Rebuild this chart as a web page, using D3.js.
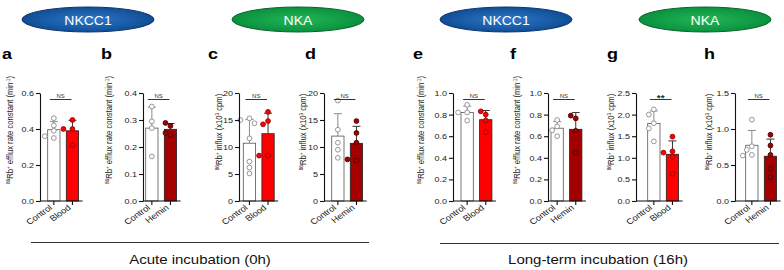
<!DOCTYPE html>
<html>
<head>
<meta charset="utf-8">
<script src="https://cdn.jsdelivr.net/npm/d3@7"></script>
<style>
  html, body { margin: 0; padding: 0; background: #fff; }
  svg { display: block; font-family: "Liberation Sans", Arial, sans-serif; }
</style>
</head>
<body>
<div id="chart"></div>
<script>
// values
const panelLetters = ["a", "b", "c", "d", "e", "f", "g", "h"];
const treatments = ["Blood", "Hemin", "Blood", "Hemin", "Blood", "Hemin", "Blood", "Hemin"];
const controlPoints = [
    [0.46, 0.42, 0.39, 0.35, 0.36],
    [0.35, 0.295, 0.27, 0.165],
    [15.3, 15.0, 14.4, 11.6, 7.3, 6.2, 5.1],
    [18.6, 13.2, 10.8, 9.5, 8.0],
    [0.89, 0.82, 0.82, 0.745],
    [0.75, 0.69, 0.655, 0.60],
    [2.12, 2.0, 1.8, 1.68, 1.38],
    [1.13, 0.76, 0.71, 0.64, 0.63]
];
const treatedPoints = [
    [0.45, 0.40, 0.40, 0.31],
    [0.278, 0.289, 0.243, 0.252],
    [16.5, 14.8, 14.2, 8.4, 8.4],
    [14.8, 12.6, 10.8, 7.5, 7.7],
    [0.80, 0.83, 0.745, 0.636],
    [0.765, 0.79, 0.65, 0.45],
    [1.49, 1.15, 1.12, 1.02, 0.63],
    [0.92, 0.77, 0.64, 0.45, 0.33]
];
const yMax = [0.6, 0.4, 20, 20, 1.0, 1.0, 2.5, 1.5];
const yStep = [0.2, 0.1, 5, 5, 0.2, 0.2, 0.5, 0.5];
const yDecimals = [1, 1, 0, 0, 1, 1, 1, 1];
const effluxTitle = "^{86}Rb^{+} efflux rate constant (min^{-1})";
const influxTitle = "^{86}Rb^{+} influx (x10^{3} cpm)";
const yTitles = [effluxTitle, effluxTitle, influxTitle, influxTitle, effluxTitle, effluxTitle, influxTitle, influxTitle];
const significance = ["NS", "NS", "NS", "NS", "NS", "NS", "**", "NS"];
const targets = ["NKCC1", "NKA", "NKCC1", "NKA"];
const groupTitles = ["Acute incubation (0h)", "Long-term incubation (16h)"];

// layout
const width = 784, height = 270;
const K = 0.85; // the figure's text is a little squashed vertically
const axisXs = [40, 143, 239, 324, 453, 548, 636, 735];
const barStarts = [47.7, 145.7, 243.3, 331.7, 461, 551, 647.7, 745.7];
const letterXs = [2, 101, 208, 305, 413, 510, 607, 704];
const titleXs = [13, 112, 222, 306, 424, 520, 614, 712];
const titleYs = [130, 130, 132, 132, 130, 130, 132, 132];
const yTop = 93, yBottom = 201;
const barStep = 18.6, barWidth = 12.3;
const targetXs = [88, 298, 506, 705];
const groupLines = [[31, 369, 242.5], [440, 779, 243.5]];
const groupTitleXs = [200, 598];

const treatedColor = { Blood: "#ff0000", Hemin: "#a50000" };
const treatedStroke = { Blood: "#9a0000", Hemin: "#4a0000" };

const svg = d3.select("#chart").append("svg")
    .attr("width", width)
    .attr("height", height);

function squash(x, y, rot) {
    return `translate(${x},${y}) scale(1,${K})` + (rot ? ` rotate(${rot})` : "");
}

// writes "a^{b}c" as tspans with superscripts
function richText(text, str, size) {
    const parts = str.split(/(\^\{[^}]*\})/).filter(s => s.length);
    let raised = false;
    parts.forEach(p => {
        if (p.startsWith("^{")) {
            text.append("tspan")
                .attr("font-size", size * 0.62)
                .attr("dy", raised ? 0 : -size * 0.38)
                .text(p.slice(2, -1));
            raised = true;
        } else {
            text.append("tspan")
                .attr("font-size", size)
                .attr("dy", raised ? size * 0.38 : 0)
                .text(p);
            raised = false;
        }
    });
}

// ellipses with target names
const defs = svg.append("defs");
const blueGrad = defs.append("radialGradient").attr("id", "blueGrad");
blueGrad.append("stop").attr("offset", "0%").attr("stop-color", "#2f78c8");
blueGrad.append("stop").attr("offset", "100%").attr("stop-color", "#0f4e96");
const greenGrad = defs.append("radialGradient").attr("id", "greenGrad");
greenGrad.append("stop").attr("offset", "0%").attr("stop-color", "#22b655");
greenGrad.append("stop").attr("offset", "100%").attr("stop-color", "#0a913f");

targets.forEach((t, i) => {
    const blue = t === "NKCC1";
    svg.append("ellipse")
        .attr("cx", targetXs[i])
        .attr("cy", 19.5)
        .attr("rx", 66)
        .attr("ry", 12.5)
        .attr("fill", blue ? "url(#blueGrad)" : "url(#greenGrad)")
        .attr("stroke", blue ? "#0a3470" : "#07632b")
        .attr("stroke-width", 1);
    svg.append("text")
        .attr("transform", squash(targetXs[i], 24.5))
        .attr("text-anchor", "middle")
        .attr("font-size", 14)
        .attr("fill", "#fff")
        .text(t);
});

// one bar panel
function drawPanel(i) {
    const cats = ["Control", treatments[i]];
    const axisX = axisXs[i];
    const span = barStep * 2 - (barStep - barWidth);

    const x = d3.scaleBand()
        .domain(cats)
        .range([barStarts[i], barStarts[i] + span])
        .paddingInner(1 - barWidth / barStep)
        .paddingOuter(0);

    const y = d3.scaleLinear()
        .domain([0, yMax[i]])
        .range([yBottom, yTop]);

    const g = svg.append("g");

    const groups = [
        { cat: "Control", pts: controlPoints[i], fill: "#fff", stroke: "#555", ptFill: "#fff", ptStroke: "#8a8a8a", err: "#8a8a8a" },
        { cat: treatments[i], pts: treatedPoints[i], fill: treatedColor[treatments[i]], stroke: "#222",
          ptFill: treatedColor[treatments[i]], ptStroke: treatedStroke[treatments[i]], err: "#333" }
    ];

    groups.forEach(d => {
        d.mean = d3.mean(d.pts);
        d.sd = d3.deviation(d.pts);
    });

    // bars
    g.selectAll("rect.bar")
        .data(groups)
        .join("rect")
        .attr("class", "bar")
        .attr("x", d => x(d.cat))
        .attr("y", d => y(d.mean))
        .attr("width", x.bandwidth())
        .attr("height", d => yBottom - y(d.mean))
        .attr("fill", d => d.fill)
        .attr("stroke", d => d.stroke)
        .attr("stroke-width", 0.8);

    // error bars (upper only)
    groups.forEach(d => {
        const cx = x(d.cat) + x.bandwidth() / 2;
        g.append("line")
            .attr("x1", cx).attr("x2", cx)
            .attr("y1", y(d.mean)).attr("y2", y(d.mean + d.sd))
            .attr("stroke", d.err).attr("stroke-width", 1);
        g.append("line")
            .attr("x1", cx - 4).attr("x2", cx + 4)
            .attr("y1", y(d.mean + d.sd)).attr("y2", y(d.mean + d.sd))
            .attr("stroke", d.err).attr("stroke-width", 1);
    });

    // points, nudged sideways when they would overlap
    const r = 2.4;
    groups.forEach(d => {
        const cx = x(d.cat) + x.bandwidth() / 2;
        const placed = [];
        d.pts.forEach(v => {
            const py = y(v);
            const offsets = [0, -5, 5, -9, 9];
            let off = offsets.find(o => placed.every(p => Math.hypot(p.x - o, p.y - py) > 2 * r + 0.6));
            if (off === undefined) off = 0;
            placed.push({ x: off, y: py });
        });
        g.selectAll(null)
            .data(placed)
            .join("circle")
            .attr("cx", p => cx + p.x)
            .attr("cy", p => p.y)
            .attr("r", r)
            .attr("fill", d.ptFill)
            .attr("stroke", d.ptStroke)
            .attr("stroke-width", 0.9);
    });

    // y axis
    const ticks = d3.range(0, yMax[i] + yStep[i] / 2, yStep[i]);
    const yAxis = g.append("g")
        .attr("transform", `translate(${axisX},0)`)
        .call(d3.axisLeft(y).tickValues(ticks).tickFormat(d3.format(`.${yDecimals[i]}f`)).tickSize(4).tickSizeOuter(0).tickPadding(2));
    yAxis.selectAll("path, line").attr("stroke", "#111").attr("stroke-width", 1.1);
    yAxis.selectAll("text")
        .attr("font-family", "Liberation Sans, Arial, sans-serif")
        .attr("font-size", 9)
        .attr("fill", "#222")
        .attr("transform", `scale(1,${K})`);

    // x axis
    const endX = barStarts[i] + span + 4;
    g.append("line")
        .attr("x1", axisX).attr("x2", endX)
        .attr("y1", yBottom).attr("y2", yBottom)
        .attr("stroke", "#111").attr("stroke-width", 1.1);
    const xAxis = g.append("g")
        .attr("transform", `translate(0,${yBottom})`)
        .call(d3.axisBottom(x).tickSize(4).tickSizeOuter(0));
    xAxis.select(".domain").remove();
    xAxis.selectAll("line").attr("stroke", "#111").attr("stroke-width", 1.1);
    xAxis.selectAll("text")
        .attr("font-family", "Liberation Sans, Arial, sans-serif")
        .attr("font-size", 9.5)
        .attr("fill", "#222")
        .attr("text-anchor", "end")
        .attr("x", null).attr("y", null).attr("dy", null)
        .attr("transform", `translate(-1,7.5) scale(1,${K}) rotate(-40)`);

    // significance bar
    const c0 = x("Control") + x.bandwidth() / 2;
    const c1 = x(treatments[i]) + x.bandwidth() / 2;
    const sy = yTop + 6.5;
    g.append("line")
        .attr("x1", c0 - 4).attr("x2", c1 - 1)
        .attr("y1", sy).attr("y2", sy)
        .attr("stroke", "#333").attr("stroke-width", 1);
    const star = significance[i] !== "NS";
    g.append("text")
        .attr("transform", squash((c0 + c1) / 2 - 2.5, star ? sy + 1 : sy - 1.8))
        .attr("text-anchor", "middle")
        .attr("font-size", star ? 10 : 6)
        .attr("font-weight", star ? "bold" : "normal")
        .attr("fill", "#333")
        .text(significance[i]);

    // y title
    const title = g.append("text")
        .attr("transform", squash(titleXs[i], titleYs[i], -90))
        .attr("text-anchor", "middle")
        .attr("fill", "#222");
    richText(title, yTitles[i], 9);

    // panel letter
    svg.append("text")
        .attr("transform", squash(letterXs[i], 58.5))
        .attr("font-size", 18)
        .attr("font-weight", "bold")
        .attr("fill", "#000")
        .text(panelLetters[i]);
}

panelLetters.forEach((_, i) => drawPanel(i));

// group rules and titles
groupLines.forEach((l, i) => {
    svg.append("line")
        .attr("x1", l[0]).attr("x2", l[1])
        .attr("y1", l[2]).attr("y2", l[2])
        .attr("stroke", "#333").attr("stroke-width", 1);
    svg.append("text")
        .attr("transform", squash(groupTitleXs[i], 264))
        .attr("text-anchor", "middle")
        .attr("font-size", 15)
        .attr("fill", "#111")
        .text(groupTitles[i]);
});
</script>
</body>
</html>
